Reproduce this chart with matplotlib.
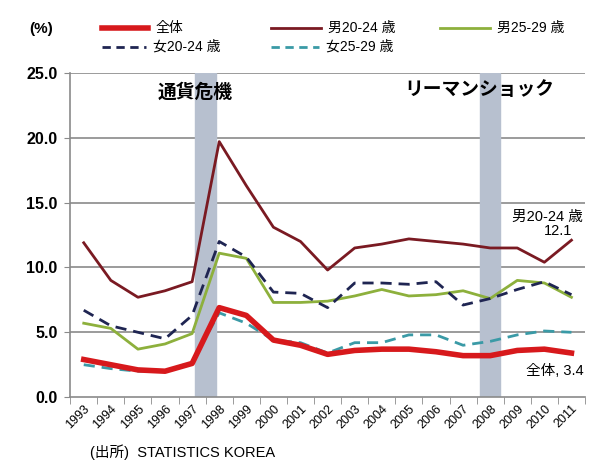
import matplotlib
matplotlib.use("Agg")
import matplotlib.pyplot as plt
from matplotlib.lines import Line2D

plt.rcParams["font.family"] = ["Liberation Sans", "Noto Sans CJK JP", "DejaVu Sans"]

years = [str(y) for y in range(1993, 2012)]
total = [2.9, 2.5, 2.1, 2.0, 2.6, 6.9, 6.3, 4.4, 4.0, 3.3, 3.6, 3.7, 3.7, 3.5, 3.2, 3.2, 3.6, 3.7, 3.4]
male_20_24 = [11.9, 9.0, 7.7, 8.2, 8.9, 19.7, 16.3, 13.1, 12.0, 9.8, 11.5, 11.8, 12.2, 12.0, 11.8, 11.5, 11.5, 10.4, 12.1]
male_25_29 = [5.7, 5.3, 3.7, 4.1, 4.9, 11.1, 10.7, 7.3, 7.3, 7.4, 7.8, 8.3, 7.8, 7.9, 8.2, 7.6, 9.0, 8.8, 7.7]
female_20_24 = [6.7, 5.5, 5.0, 4.5, 6.3, 12.0, 10.8, 8.1, 8.0, 6.9, 8.8, 8.8, 8.7, 8.9, 7.1, 7.6, 8.3, 8.9, 7.9]
female_25_29 = [2.5, 2.2, 2.0, 2.0, 2.7, 6.5, 5.7, 4.4, 4.2, 3.4, 4.2, 4.2, 4.8, 4.8, 4.0, 4.3, 4.8, 5.1, 5.0]
yticks = [0, 5, 10, 15, 20, 25]

c_total = "#d7191c"
c_m2024 = "#7a1a22"
c_m2529 = "#8db03c"
c_f2024 = "#1f2552"
c_f2529 = "#3a9aa6"
c_grid = "#8a8a8a"

fig = plt.figure(figsize=(6, 4.7), dpi=100)
ax = fig.add_axes([0.117, 0.155, 0.858, 0.69])

x = range(len(years))
# shaded crisis bands
ax.axvspan(4.5 - 0.38, 4.5 + 0.38, color="#b7c0cf", zorder=1)
ax.axvspan(15 - 0.38, 15 + 0.38, color="#b7c0cf", zorder=1)

for yv in yticks[1:]:
    ax.axhline(yv, color=c_grid, lw=1.2, zorder=0)

ax.plot(x, male_20_24, color=c_m2024, lw=2.0, zorder=3)
ax.plot(x, male_25_29, color=c_m2529, lw=2.0, zorder=3)
ax.plot(x, female_20_24, color=c_f2024, lw=2.0, ls=(0, (4, 2.5)), zorder=4)
ax.plot(x, female_25_29, color=c_f2529, lw=2.0, ls=(0, (4, 2.5)), zorder=4)
ax.plot(x, total, color=c_total, lw=4.0, zorder=5)

ax.set_xlim(-0.5, len(years) - 0.5)
ax.set_ylim(0, 25)
ax.set_yticks(yticks)
ax.set_yticklabels([f"{v:.1f}" for v in yticks], fontsize=11.5, fontweight="bold")
ax.set_xticks(list(x))
ax.set_xticklabels(years, rotation=45, ha="right", fontsize=9, rotation_mode="anchor")
ax.set_xticks([i + 0.5 for i in range(-1, len(years))], minor=True)
ax.tick_params(axis="x", which="major", length=0, pad=4)
ax.tick_params(axis="x", which="minor", length=5, color=c_grid, direction="out")
ax.tick_params(axis="y", length=4, color=c_grid, pad=5)
for s in ["top", "right"]:
    ax.spines[s].set_visible(False)
for s in ["left", "bottom"]:
    ax.spines[s].set_color(c_grid)
    ax.spines[s].set_linewidth(1.2)

ax.text(4.1, 23.5, "通貨危機", ha="center", va="center", fontsize=13.5, fontweight="bold")
ax.text(14.6, 23.7, "リーマンショック", ha="center", va="center", fontsize=13.5, fontweight="bold")
ax.text(17.1, 13.9, "男20-24 歳", ha="center", va="center", fontsize=10.5)
ax.text(17.5, 12.8, "12.1", ha="center", va="center", fontsize=10.5)
ax.text(17.4, 2.0, "全体, 3.4", ha="center", va="center", fontsize=10.5)

# legend drawn in figure coordinates
fig.text(0.048, 0.938, "(%)", fontsize=11, fontweight="bold", va="center")
legend_items = [
    (0.170, 0.94, 0.077, c_total, "-", 4.0, "全体"),
    (0.452, 0.94, 0.083, c_m2024, "-", 2.0, "男20-24 歳"),
    (0.733, 0.94, 0.083, c_m2529, "-", 2.0, "男25-29 歳"),
    (0.170, 0.90, 0.073, c_f2024, (0, (3, 2)), 2.0, "女20-24 歳"),
    (0.452, 0.90, 0.080, c_f2529, (0, (3, 2)), 2.0, "女25-29 歳"),
]
for lx, ly, lw_fig, col, ls, lw, lab in legend_items:
    fig.add_artist(Line2D([lx, lx + lw_fig], [ly, ly], color=col, ls=ls, lw=lw,
                          transform=fig.transFigure))
    fig.text(lx + lw_fig + 0.012, ly, lab, fontsize=10, va="center")

fig.text(0.15, 0.038, "(出所)  STATISTICS KOREA", fontsize=10.5, va="center")

fig.savefig("out.png", dpi=100, facecolor="white")
